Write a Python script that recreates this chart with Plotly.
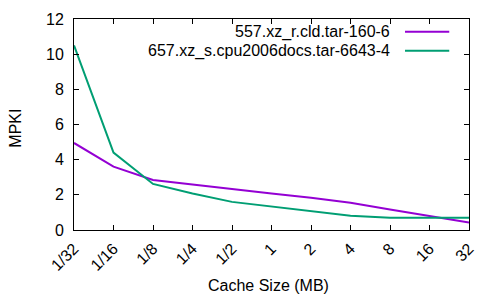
import plotly.graph_objects as go

categories = ["1/32", "1/16", "1/8", "1/4", "1/2", "1", "2", "4", "8", "16", "32"]
series_names = ["557.xz_r.cld.tar-160-6", "657.xz_s.cpu2006docs.tar-6643-4"]
xz_r_mpki = [4.95, 3.6, 2.84, 2.58, 2.3, 2.08, 1.84, 1.55, 1.17, 0.81, 0.42]
xz_s_mpki = [10.5, 4.4, 2.62, 2.08, 1.6, 1.33, 1.04, 0.81, 0.70, 0.70, 0.70]
y_ticks = [0, 2, 4, 6, 8, 10, 12]
colors = ["#9400d3", "#009e73"]

x_idx = list(range(len(categories)))
FONT = "Liberation Sans, Arial, sans-serif"
FS = 16

fig = go.Figure()
for name, vals, col in zip(series_names, [xz_r_mpki, xz_s_mpki], colors):
    fig.add_trace(go.Scatter(x=x_idx, y=vals, mode="lines", name=name,
                             line=dict(color=col, width=2), showlegend=False))

# gnuplot-style legend: right-aligned text followed by a line sample
leg_y = [0.940, 0.850]
for name, col, yy in zip(series_names, colors, leg_y):
    fig.add_annotation(xref="paper", yref="paper", x=0.806, y=yy, text=name,
                       showarrow=False, xanchor="right", yanchor="middle",
                       font=dict(family=FONT, size=FS, color="black"))
    fig.add_shape(type="line", xref="paper", yref="paper",
                  x0=0.838, x1=0.950, y0=yy, y1=yy,
                  line=dict(color=col, width=2))

# axis titles
fig.add_annotation(xref="paper", yref="paper", x=0.492, y=-0.261, text="Cache Size (MB)",
                   showarrow=False, xanchor="center", yanchor="middle",
                   font=dict(family=FONT, size=FS, color="black"))
fig.add_annotation(xref="paper", yref="paper", x=-0.148, y=0.483, text="MPKI",
                   showarrow=False, xanchor="center", yanchor="middle", textangle=-90,
                   font=dict(family=FONT, size=FS, color="black"))

axis_common = dict(showline=True, linecolor="black", linewidth=1, mirror="ticks",
                   ticks="inside", ticklen=5, tickcolor="black", showgrid=False,
                   zeroline=False, automargin=False,
                   tickfont=dict(family=FONT, size=FS, color="black"))

fig.update_xaxes(range=[0, len(categories) - 1], tickmode="array", tickvals=x_idx,
                 ticktext=categories, tickangle=-45, ticklabelstandoff=2,
                 **axis_common)
fig.update_yaxes(range=[0, 12], tickmode="array", tickvals=y_ticks,
                 ticklabelstandoff=6,
                 **axis_common)

fig.update_layout(width=500, height=300, margin=dict(l=66, r=39, t=11, b=78),
                  plot_bgcolor="white", paper_bgcolor="white",
                  font=dict(family=FONT, size=FS, color="black"))

fig.write_html("out.html")
